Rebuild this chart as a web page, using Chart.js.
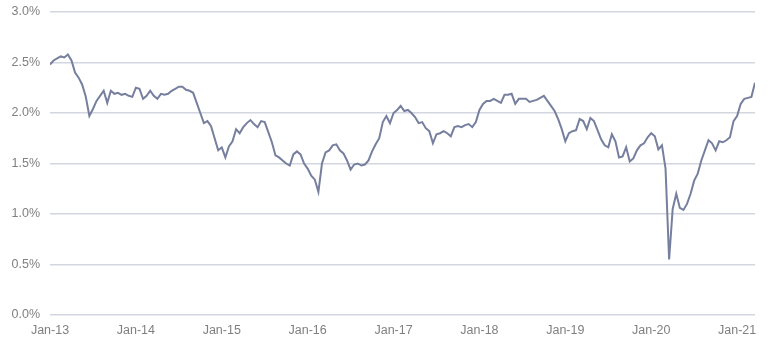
<!DOCTYPE html>
<html lang="en">
<head>
    <meta charset="UTF-8">
    <title>Breakeven</title>
    <script src="https://cdn.jsdelivr.net/npm/chart.js"></script>
    <style>
        body { margin: 0; background: #fff; }
        #wrap { width: 775px; height: 350px; }
    </style>
</head>
<body>
    <div id="wrap">
        <canvas id="chart1" width="775" height="350"></canvas>
    </div>

    <script>
        // semi-monthly readings (1st and 16th of each month), in %
        var y2013 = [2.48, 2.52, 2.54, 2.56, 2.55, 2.58, 2.52, 2.40, 2.35, 2.28, 2.16, 1.97, 2.04, 2.12, 2.17, 2.22, 2.10, 2.22, 2.19, 2.20, 2.18, 2.19, 2.17, 2.16];
        var y2014 = [2.25, 2.24, 2.14, 2.17, 2.22, 2.17, 2.14, 2.19, 2.18, 2.19, 2.22, 2.24, 2.26, 2.26, 2.23, 2.22, 2.20, 2.10, 2.00, 1.90, 1.92, 1.87, 1.75, 1.63];
        var y2015 = [1.66, 1.56, 1.67, 1.72, 1.84, 1.80, 1.86, 1.90, 1.93, 1.89, 1.86, 1.92, 1.91, 1.81, 1.71, 1.58, 1.56, 1.53, 1.50, 1.48, 1.59, 1.62, 1.59, 1.50];
        var y2016 = [1.45, 1.38, 1.34, 1.22, 1.50, 1.61, 1.63, 1.68, 1.69, 1.63, 1.60, 1.53, 1.44, 1.49, 1.50, 1.48, 1.49, 1.53, 1.62, 1.69, 1.75, 1.91, 1.97, 1.90];
        var y2017 = [2.00, 2.03, 2.07, 2.02, 2.03, 2.00, 1.96, 1.90, 1.91, 1.85, 1.82, 1.70, 1.79, 1.80, 1.82, 1.80, 1.77, 1.86, 1.87, 1.86, 1.88, 1.89, 1.86, 1.91];
        var y2018 = [2.03, 2.09, 2.12, 2.12, 2.14, 2.12, 2.10, 2.18, 2.18, 2.19, 2.09, 2.14, 2.14, 2.14, 2.11, 2.12, 2.13, 2.15, 2.17, 2.12, 2.07, 2.02, 1.94, 1.84];
        var y2019 = [1.72, 1.80, 1.82, 1.83, 1.94, 1.92, 1.84, 1.95, 1.92, 1.83, 1.74, 1.68, 1.66, 1.79, 1.72, 1.56, 1.57, 1.66, 1.52, 1.55, 1.63, 1.68, 1.70, 1.76];
        var y2020 = [1.80, 1.77, 1.64, 1.68, 1.45, 0.55, 1.05, 1.20, 1.06, 1.04, 1.10, 1.20, 1.33, 1.40, 1.53, 1.63, 1.73, 1.70, 1.63, 1.72, 1.71, 1.73, 1.76, 1.92];
        var y2021 = [1.97, 2.09, 2.14, 2.15, 2.16, 2.30];

        var years = [2013, 2014, 2015, 2016, 2017, 2018, 2019, 2020, 2021];
        var yTicks = [0, 0.5, 1.0, 1.5, 2.0, 2.5, 3.0];

        var byYear = [y2013, y2014, y2015, y2016, y2017, y2018, y2019, y2020, y2021];
        var puntos = [];
        for (var k = 0; k < years.length; k++) {
            for (var i = 0; i < byYear[k].length; i++) {
                puntos.push({ x: years[k] + i / 24, y: byYear[k][i] });
            }
        }
        var xMax = puntos[puntos.length - 1].x;

        var ctx = document.getElementById('chart1').getContext('2d');
        var chart = new Chart(ctx, {
            type: 'line',
            data: {
                datasets: [{
                    data: puntos,
                    borderColor: '#767f9d',
                    borderWidth: 2,
                    pointRadius: 0,
                    tension: 0,
                    fill: false
                }]
            },
            options: {
                responsive: false,
                animation: false,
                layout: { padding: { top: 12, right: 20, left: 0, bottom: 0 } },
                plugins: { legend: { display: false }, tooltip: { enabled: false } },
                scales: {
                    x: {
                        type: 'linear',
                        min: 2013,
                        max: xMax,
                        grid: { display: false },
                        border: { display: false },
                        afterBuildTicks: function (scale) {
                            scale.ticks = years.map(function (v) { return { value: v }; });
                        },
                        afterFit: function (scale) {
                            scale.height = 35;
                            scale.paddingLeft = 0;
                            scale.paddingRight = 0;
                        },
                        ticks: {
                            maxRotation: 0,
                            autoSkip: false,
                            padding: 0,
                            color: '#808080',
                            font: { family: 'Liberation Sans', size: 12.5 },
                            callback: function (v) { return 'Jan-' + String(v - 2000); }
                        }
                    },
                    y: {
                        min: 0,
                        max: 3,
                        afterBuildTicks: function (scale) {
                            scale.ticks = yTicks.map(function (v) { return { value: v }; });
                        },
                        afterFit: function (scale) {
                            scale.width = 50;
                            scale.paddingTop = 0;
                            scale.paddingBottom = 0;
                        },
                        grid: { color: '#d3d5df', lineWidth: 1.5, drawTicks: false },
                        border: { display: false },
                        ticks: {
                            padding: 10,
                            color: '#808080',
                            font: { family: 'Liberation Sans', size: 12.5 },
                            callback: function (v) { return v.toFixed(1) + '%'; }
                        }
                    }
                }
            }
        });
    </script>
</body>
</html>
